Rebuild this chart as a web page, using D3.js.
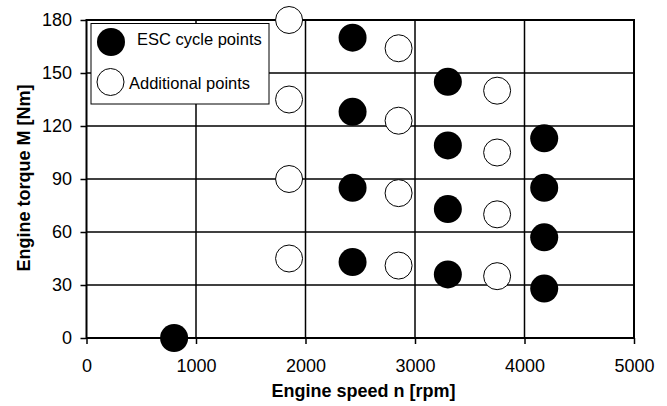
<!DOCTYPE html>
<html><head><meta charset="utf-8">
<script src="https://cdn.jsdelivr.net/npm/d3@7"></script>
<style>body{margin:0;background:#fff}svg{display:block}text{font-family:"Liberation Sans",Arial,sans-serif}</style>
</head><body><svg id="c" width="667" height="406"></svg>
<script>
const escSpeed = [800, 2430, 2430, 2430, 2430, 3300, 3300, 3300, 3300, 4180, 4180, 4180, 4180];
const escTorque = [0, 170, 128, 85, 43, 145, 109, 73, 36, 113, 85, 57, 28];
const addSpeed = [1850, 1850, 1850, 1850, 2850, 2850, 2850, 2850, 3750, 3750, 3750, 3750];
const addTorque = [180, 135, 90, 45, 164, 123, 82, 41, 140, 105, 70, 35];
const xTicks = [0, 1000, 2000, 3000, 4000, 5000];
const yTicks = [0, 30, 60, 90, 120, 150, 180];
const legendLabels = ["ESC cycle points", "Additional points"];

const svg = d3.select("#c");
const L = 86.5, R = 634, T = 20, B = 338;
const x = d3.scaleLinear().domain([0, 5000]).range([L, R]);
const y = d3.scaleLinear().domain([0, 180]).range([B, T]);

// grid
svg.append("g").selectAll("line").data(xTicks.slice(1, -1)).join("line")
  .attr("x1", d => x(d)).attr("x2", d => x(d)).attr("y1", T).attr("y2", B)
  .attr("stroke", "#000").attr("stroke-width", 1.5);
svg.append("g").selectAll("line").data(yTicks.slice(1, -1)).join("line")
  .attr("y1", d => y(d)).attr("y2", d => y(d)).attr("x1", L).attr("x2", R)
  .attr("stroke", "#000").attr("stroke-width", 1.5);

// frame
svg.append("rect").attr("x", L).attr("y", T).attr("width", R - L).attr("height", B - T)
  .attr("fill", "none").attr("stroke", "#000").attr("stroke-width", 2);

// axes
const xa = svg.append("g").attr("transform", `translate(0,${B})`)
  .call(d3.axisBottom(x).tickValues(xTicks).tickFormat(d3.format("d")).tickSize(6).tickPadding(8));
const ya = svg.append("g").attr("transform", `translate(${L},0)`)
  .call(d3.axisLeft(y).tickValues(yTicks).tickSize(6).tickPadding(8));
[xa, ya].forEach(g => {
  g.attr("font-size", null).attr("font-family", null);
  g.select(".domain").remove();
  g.selectAll(".tick line").attr("stroke", "#000").attr("stroke-width", 1.5);
  g.selectAll(".tick text").attr("fill", "#000")
    .style("font-size", "18px")
    .style("font-family", '"Liberation Sans",Arial,sans-serif');
});
xa.selectAll(".tick text").attr("dy", null).attr("y", 34);
ya.selectAll(".tick text").attr("x", -14.5);

// points
svg.append("g").selectAll("circle").data(addSpeed.map((s, i) => [s, addTorque[i]])).join("circle")
  .attr("cx", d => x(d[0])).attr("cy", d => y(d[1])).attr("r", 13.5)
  .attr("fill", "#fff").attr("stroke", "#000").attr("stroke-width", 1);
svg.append("g").selectAll("circle").data(escSpeed.map((s, i) => [s, escTorque[i]])).join("circle")
  .attr("cx", d => x(d[0])).attr("cy", d => y(d[1])).attr("r", 14)
  .attr("fill", "#000");

// legend
const lg = svg.append("g");
lg.append("rect").attr("x", 91).attr("y", 23.5).attr("width", 178).attr("height", 80.5)
  .attr("fill", "#fff").attr("stroke", "#000").attr("stroke-width", 1);
lg.append("circle").attr("cx", 111).attr("cy", 42).attr("r", 14).attr("fill", "#000");
lg.append("text").attr("x", 137).attr("y", 44.5)
  .style("font-size", "16.5px").text(legendLabels[0]);
lg.append("circle").attr("cx", 110.5).attr("cy", 82).attr("r", 13.5)
  .attr("fill", "#fff").attr("stroke", "#000").attr("stroke-width", 1);
lg.append("text").attr("x", 129).attr("y", 88.5)
  .style("font-size", "16.5px").text(legendLabels[1]);

// titles
svg.append("text").attr("x", 363.5).attr("y", 397).attr("text-anchor", "middle")
  .style("font-size", "18px").attr("font-weight", "bold").text("Engine speed n [rpm]");
svg.append("text").attr("transform", `translate(30,178) rotate(-90)`)
  .attr("text-anchor", "middle").style("font-size", "18px").attr("font-weight", "bold")
  .text("Engine torque M [Nm]");
</script></body></html>
